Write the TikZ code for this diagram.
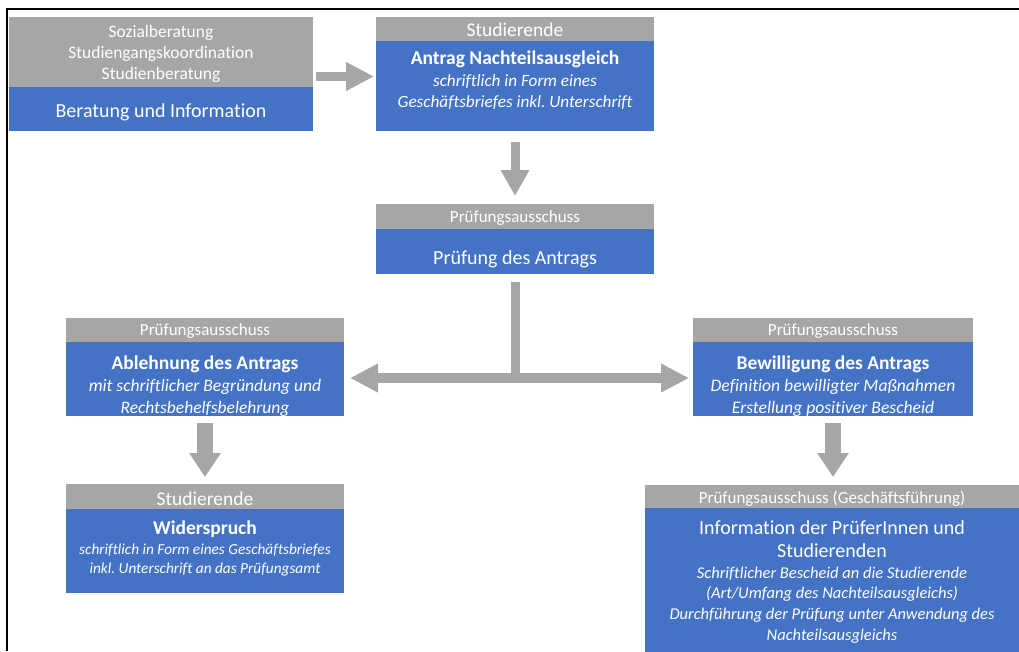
\documentclass[tikz,border=0pt]{standalone}
\usepackage{fontspec}
\setmainfont{Carlito}[Ligatures=NoCommon]
\usetikzlibrary{arrows.meta}
\definecolor{hgray}{HTML}{A6A6A6}
\definecolor{bblue}{HTML}{4472C4}
\definecolor{agray}{HTML}{A6A6A6}
\newcommand\fsz[2]{\fontsize{#1}{#2}\selectfont}
\frenchspacing
\begin{document}
\begin{tikzpicture}[x=1pt,y=-1pt,
  body/.style={fill=bblue, draw=none, inner sep=0, outer sep=0, anchor=north west},
  hdr/.style={fill=hgray, draw=none, inner sep=0, outer sep=0, anchor=north west},
  txt/.style={text=white, align=center, inner sep=0},
  hdA/.style={txt, font=\fsz{17.5}{21}},
  hdB/.style={txt, font=\fsz{19.5}{22}},
  hdC/.style={txt, font=\fsz{17}{20}},
  ttl/.style={txt, font=\fsz{20}{24}},
  bod/.style={txt, font=\fsz{16.5}{21.5}},
  arr/.style={draw=agray, line width=9pt, line cap=butt, -{Triangle[length=28pt,width=27pt]}},
  tline/.style={draw=agray, line width=9pt, line cap=butt},
  tarr/.style={draw=agray, line width=10pt, line cap=butt, -{Triangle[length=28pt,width=27pt]}},
  bigarr/.style={draw=agray, line width=16pt, line cap=butt, -{Triangle[length=24pt,width=30pt]}}
]
\useasboundingbox (0,0) rectangle (1019,651);
\fill[white] (0,0) rectangle (1019,651);
\draw[black, line width=2.5pt] (7,651) -- (7,9) -- (1019,9);

% Box 1
\node[body, minimum width=304pt, minimum height=114pt] (B1) at (9,17) {};
\node[hdr, minimum width=304pt, minimum height=70pt] (H1) at (B1.north west) {};
\node[hdA] (t1h) at (161,54) {Sozialberatung\\Studiengangskoordination\\Studienberatung};
\node[ttl] (t1b) at (161,112) {Beratung und Information};

% Box 2
\node[body, minimum width=278pt, minimum height=114pt] (B2) at (376,17) {};
\node[hdr, minimum width=278pt, minimum height=24pt] (H2) at (B2.north west) {};
\node[hdB] (t2h) at (515,29.5) {Studierende};
\node[txt, font=\fsz{17.2}{21.5}] (t2b) at (515,80.5) {{\fsz{19.5}{22}\bfseries Antrag Nachteilsausgleich}\\{\itshape schriftlich in Form eines}\\{\itshape Geschäftsbriefes inkl. Unterschrift}};

% Box 3
\node[body, minimum width=278pt, minimum height=70pt] (B3) at (376,204) {};
\node[hdr, minimum width=278pt, minimum height=25pt] (H3) at (B3.north west) {};
\node[hdC] (t3h) at (515,218.5) {Prüfungsausschuss};
\node[ttl] (t3b) at (515,259) {Prüfung des Antrags};

% Box 4 Ablehnung
\node[body, minimum width=278pt, minimum height=98pt] (B4) at (66,318) {};
\node[hdr, minimum width=278pt, minimum height=24pt] (H4) at (B4.north west) {};
\node[hdC] (t4h) at (205,331.5) {Prüfungsausschuss};
\node[txt, font=\fsz{17.5}{22}] (t4b) at (205,386.5) {{\fsz{19.5}{22}\bfseries Ablehnung des Antrags}\\{\itshape mit schriftlicher Begründung und}\\{\itshape Rechtsbehelfsbelehrung}};

% Box 5 Widerspruch
\node[body, minimum width=278pt, minimum height=109pt] (B5) at (66,484) {};
\node[hdr, minimum width=278pt, minimum height=25pt] (H5) at (B5.north west) {};
\node[hdB] (t5h) at (205,498.5) {Studierende};
\node[txt, font=\fsz{15.3}{19.5}] (t5b) at (205,548.5) {{\fsz{19.5}{22}\bfseries Widerspruch}\\{\itshape schriftlich in Form eines Geschäftsbriefes}\\{\itshape inkl. Unterschrift an das Prüfungsamt}};

% Box 6 Bewilligung
\node[body, minimum width=280pt, minimum height=98pt] (B6) at (693,318) {};
\node[hdr, minimum width=280pt, minimum height=24pt] (H6) at (B6.north west) {};
\node[hdC] (t6h) at (833,331.5) {Prüfungsausschuss};
\node[txt, font=\fsz{17.6}{22}] (t6b) at (833,386.5) {{\fsz{19.5}{22}\bfseries Bewilligung des Antrags}\\{\itshape Definition bewilligter Maßnahmen}\\{\itshape Erstellung positiver Bescheid}};

% Box 7
\node[body, minimum width=374pt, minimum height=170pt] (B7) at (645,485) {};
\node[hdr, minimum width=374pt, minimum height=23pt] (H7) at (B7.north west) {};
\node[hdC] (t7h) at (832,498.5) {Prüfungsausschuss (Geschäftsführung)};
\node[bod, font=\fsz{16.5}{20.8}] (t7b) at (832,582) {{\fsz{20}{25}Information der PrüferInnen und}\\[2pt]{\fsz{20}{25}Studierenden}\\{\itshape Schriftlicher Bescheid an die Studierende}\\{\itshape (Art/Umfang des Nachteilsausgleichs)}\\{\itshape Durchführung der Prüfung unter Anwendung des}\\{\itshape Nachteilsausgleichs}};

% Connectors
\draw[arr, shorten <=3pt, shorten >=2pt] ([yshift=-2.5pt]B1.east) -- ([yshift=-2.5pt]B2.west);
\draw[arr, -{Triangle[length=26pt,width=27pt]}, shorten <=11pt, shorten >=8pt] (B2.south) -- (B3.north);
\coordinate (J) at ([yshift=-104pt]B3.south);
\draw[tline, shorten <=8pt] (B3.south) -- ([yshift=-5pt]J);
\draw[tarr, shorten >=6pt] (J) -- (B4.east |- J);
\draw[tarr, shorten >=4pt] (J) -- (B6.west |- J);
\draw[bigarr, shorten <=7pt, shorten >=7pt] (B4.south) -- (B5.north);
\draw[bigarr, shorten <=7pt, shorten >=8pt] (B6.south) -- (B6.south |- B7.north);
\end{tikzpicture}
\end{document}
